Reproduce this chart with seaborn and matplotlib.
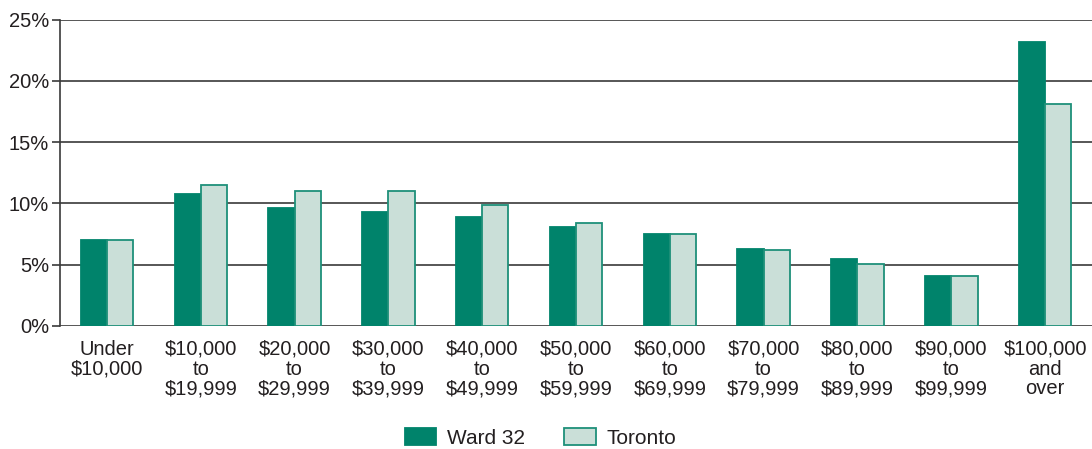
import pandas as pd
import seaborn as sns
from matplotlib import pyplot as plt
from matplotlib.patches import Patch
from matplotlib.ticker import FuncFormatter

categories = ["Under\n$10,000", "$10,000\nto\n$19,999", "$20,000\nto\n$29,999",
              "$30,000\nto\n$39,999", "$40,000\nto\n$49,999", "$50,000\nto\n$59,999",
              "$60,000\nto\n$69,999", "$70,000\nto\n$79,999", "$80,000\nto\n$89,999",
              "$90,000\nto\n$99,999", "$100,000\nand\nover"]
ward32 = [7.0, 10.8, 9.6, 9.3, 8.9, 8.1, 7.5, 6.3, 5.5, 4.1, 23.2]
toronto = [7.0, 11.5, 11.0, 11.0, 9.9, 8.4, 7.5, 6.2, 5.1, 4.1, 18.1]
series = ["Ward 32", "Toronto"]

sns.set_theme(style="white")
plt.rcParams['font.family'] = ['Liberation Sans', 'DejaVu Sans']
plt.rcParams['text.parse_math'] = False

df = pd.DataFrame({
    "income": categories * 2,
    "share": ward32 + toronto,
    "series": [series[0]] * len(categories) + [series[1]] * len(categories),
})

dark = "#00836B"
light = "#CADFD8"
edge = "#1E9079"
ink = "#231F20"

fig = plt.figure(figsize=(10.92, 4.49), dpi=100)
ax = fig.add_axes([0.055, 0.274, 0.945, 0.682])

sns.barplot(data=df, x="income", y="share", hue="series", order=categories,
            hue_order=series, palette=[dark, light], width=0.56, ax=ax,
            saturation=1, linewidth=1.3, legend=False)

for bar in ax.containers[0]:
    bar.set_edgecolor(dark)
for bar in ax.containers[1]:
    bar.set_edgecolor(edge)

ax.set_xlim(-0.5, 10.5)
ax.set_ylim(0, 25)
ax.set_yticks([0, 5, 10, 15, 20, 25])
ax.yaxis.set_major_formatter(FuncFormatter(lambda v, p: f"{v:.0f}%"))
ax.grid(axis="y", color="#3a3a3a", linewidth=1.2)
ax.set_axisbelow(True)
for side in ["top", "right", "bottom"]:
    ax.spines[side].set_visible(False)
ax.spines["left"].set_color("#3a3a3a")
ax.spines["left"].set_linewidth(1.2)
ax.tick_params(axis="y", left=True, length=6, width=1.2, color="#3a3a3a",
               labelsize=14.5, labelcolor=ink, pad=2)
ax.tick_params(axis="x", bottom=False, labelsize=14.5, labelcolor=ink, pad=4)
for lab in ax.get_xticklabels():
    lab.set_linespacing(1.05)
ax.set_xlabel("")
ax.set_ylabel("")

handles = [Patch(facecolor=dark, edgecolor=dark, linewidth=1.3, label=series[0]),
           Patch(facecolor=light, edgecolor=edge, linewidth=1.3, label=series[1])]
fig.legend(handles=handles, loc="center", bbox_to_anchor=(0.495, 0.025),
           ncol=2, frameon=False, fontsize=15, handlelength=1.5,
           handleheight=0.9, columnspacing=1.9, handletextpad=0.5,
           labelcolor=ink)

plt.savefig("out.png", dpi=100)
